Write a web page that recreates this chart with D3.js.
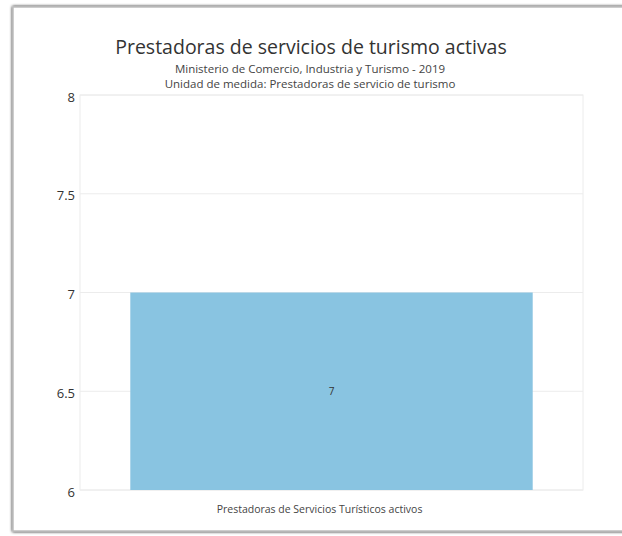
<!DOCTYPE html>
<html><head><meta charset="utf-8">
<script src="https://cdn.jsdelivr.net/npm/d3@7"></script>
<style>
html,body{margin:0;padding:0;background:#fff;}
svg{display:block;font-family:"Open Sans","Noto Sans",sans-serif;}
</style></head>
<body><svg id="c" width="622" height="536"></svg>
<script>
const categories = ["Prestadoras de Servicios Turísticos activos"];
const values = [7];
const yTicks = [6, 6.5, 7, 7.5, 8];
const yTickLabels = ["6", "6.5", "7", "7.5", "8"];
const title = "Prestadoras de servicios de turismo activas";
const subtitles = ["Ministerio de Comercio, Industria y Turismo - 2019", "Unidad de medida: Prestadoras de servicio de turismo"];

(function(){
const svg = d3.select("#c");
const defs = svg.append("defs");
const f = defs.append("filter").attr("id","sh").attr("x","-5%").attr("y","-5%").attr("width","110%").attr("height","110%");
f.append("feGaussianBlur").attr("in","SourceAlpha").attr("stdDeviation",1.5).attr("result","b");
const m = f.append("feMerge"); m.append("feMergeNode").attr("in","b"); m.append("feMergeNode").attr("in","SourceGraphic");
svg.append("rect").attr("x",13).attr("y",7).attr("width",640).attr("height",524)
  .attr("fill","#fff").attr("stroke","#bdbdbd").attr("stroke-width",1.5).attr("filter","url(#sh)");

const pL = 80, pR = 583, pT = 95, pB = 490;
const x = d3.scaleBand().domain(categories).range([pL, pR]).paddingInner(0.2).paddingOuter(0.1);
const y = d3.scaleLinear().domain([6, 8]).range([pB, pT]);

svg.append("rect").attr("x",pL).attr("y",pT).attr("width",pR-pL).attr("height",pB-pT)
  .attr("fill","none").attr("stroke","#ececec");
svg.append("g").selectAll("line").data(yTicks).join("line")
  .attr("x1",pL).attr("x2",pR).attr("y1",d=>y(d)).attr("y2",d=>y(d))
  .attr("stroke","#ececec");

const ya = svg.append("g").attr("transform",`translate(${pL-5},2)`)
  .call(d3.axisLeft(y).tickValues(yTicks).tickFormat((d,i)=>yTickLabels[i]).tickSize(0).tickPadding(0));
ya.select(".domain").remove();
ya.selectAll("text").attr("font-size",13).attr("fill","#333").attr("font-family","Open Sans, Noto Sans, sans-serif");

svg.append("g").selectAll("rect").data(values).join("rect")
  .attr("x",(d,i)=>x(categories[i])).attr("width",x.bandwidth())
  .attr("y",d=>y(d)).attr("height",d=>y(6)-y(d)).attr("fill","#89c4e1");
svg.append("g").selectAll("text").data(values).join("text")
  .attr("x",(d,i)=>x(categories[i])+x.bandwidth()/2).attr("y",d=>(y(d)+y(6))/2)
  .attr("dy","0.35em").attr("text-anchor","middle").attr("font-size",10).attr("fill","#333").text(d=>d);

const xa = svg.append("g").attr("transform",`translate(-12,${pB+9})`)
  .call(d3.axisBottom(x).tickSize(0).tickPadding(7));
xa.select(".domain").remove();
xa.selectAll("text").attr("font-size",10.5).attr("fill","#444").attr("font-family","Open Sans, Noto Sans, sans-serif");

svg.append("text").attr("x",311).attr("y",54).attr("text-anchor","middle").attr("font-size",19.5).attr("fill","#333").text(title);
svg.append("text").attr("x",310).attr("y",73).attr("text-anchor","middle").attr("font-size",11.5).attr("fill","#444").text(subtitles[0]);
svg.append("text").attr("x",310).attr("y",88).attr("text-anchor","middle").attr("font-size",11.5).attr("fill","#444").text(subtitles[1]);
})();
</script></body></html>
